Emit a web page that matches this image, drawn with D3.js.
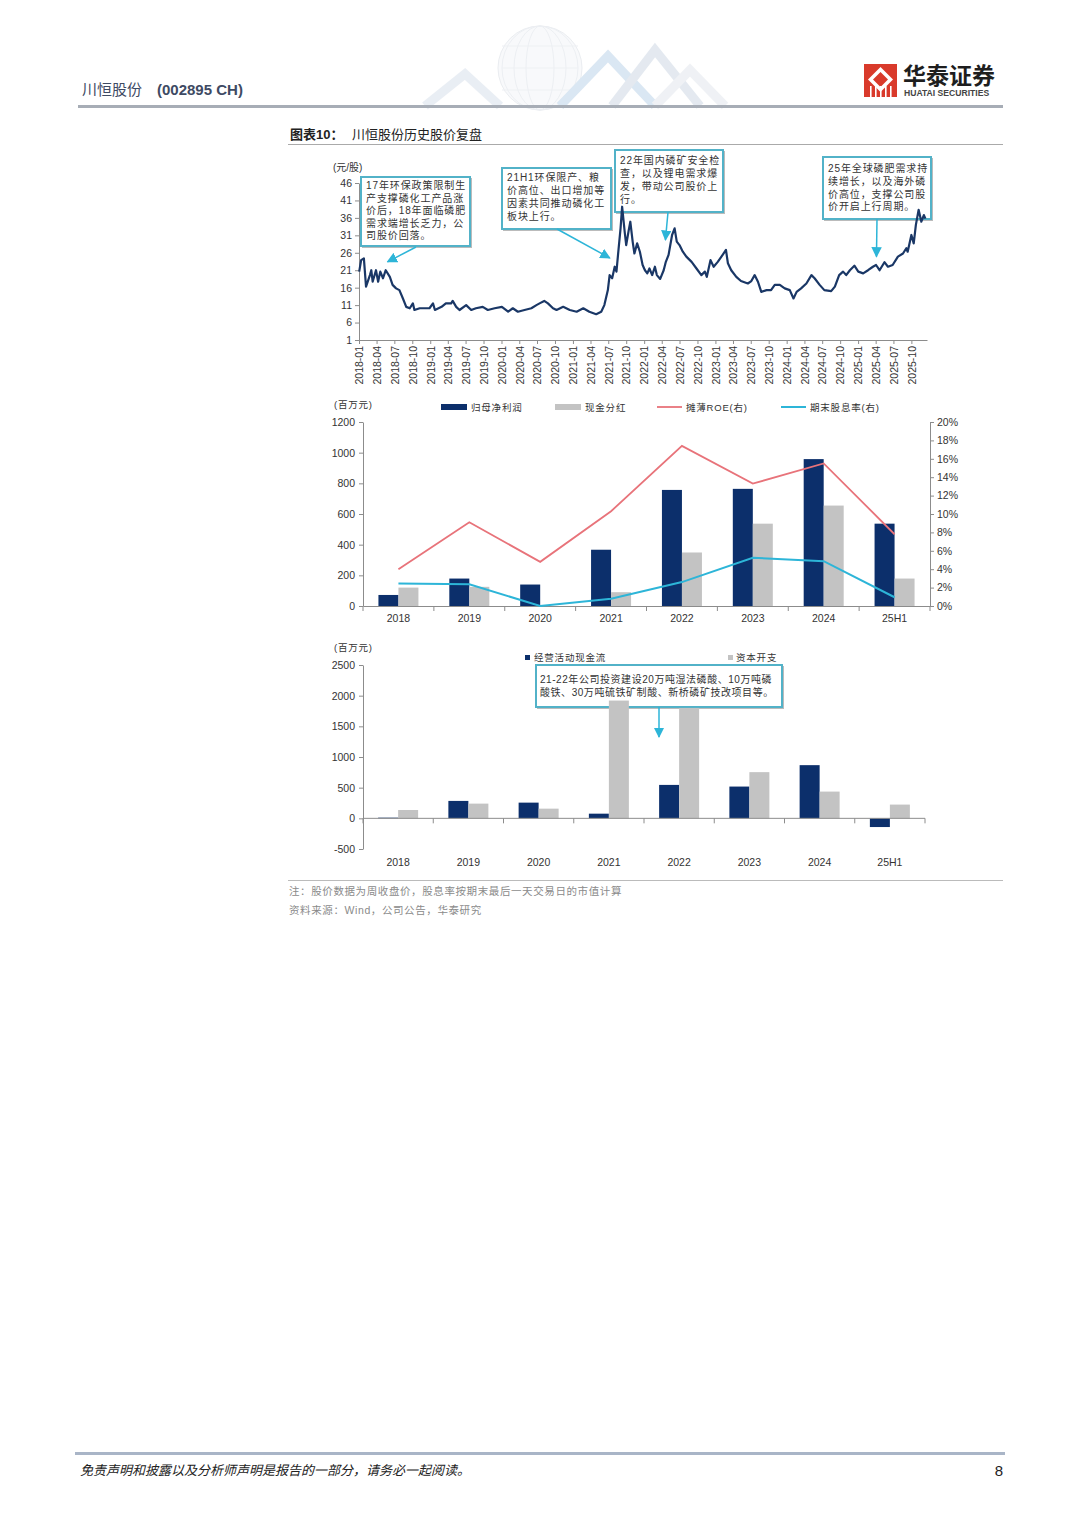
<!DOCTYPE html>
<html><head><meta charset="utf-8">
<script src="https://cdn.jsdelivr.net/npm/d3@7"></script>
<style>body{margin:0;background:#fff}</style>
</head><body><svg id="c" width="1080" height="1527" xmlns="http://www.w3.org/2000/svg"></svg>
<script>
// ---------------- DATA ----------------
const priceDates = ["2018-01-02","2018-01-12","2018-01-26","2018-02-06","2018-02-26","2018-03-05","2018-03-12","2018-03-29","2018-04-09","2018-04-20","2018-05-04","2018-05-18","2018-06-08","2018-06-22","2018-07-10","2018-07-27","2018-08-14","2018-08-31","2018-09-18","2018-10-04","2018-10-12","2018-11-08","2018-12-03","2018-12-28","2019-01-15","2019-01-25","2019-02-28","2019-03-22","2019-04-18","2019-04-26","2019-05-14","2019-05-31","2019-07-04","2019-07-30","2019-08-23","2019-09-27","2019-10-23","2019-11-27","2020-01-03","2020-02-04","2020-02-28","2020-03-25","2020-04-28","2020-06-02","2020-06-28","2020-07-14","2020-08-07","2020-08-26","2020-09-21","2020-10-09","2020-11-12","2020-12-16","2021-01-20","2021-02-23","2021-03-26","2021-04-30","2021-05-26","2021-06-11","2021-06-29","2021-07-08","2021-07-21","2021-08-03","2021-08-12","2021-08-20","2021-09-02","2021-09-10","2021-09-24","2021-10-01","2021-10-14","2021-10-22","2021-11-03","2021-11-12","2021-11-26","2021-12-10","2021-12-24","2022-01-05","2022-01-17","2022-01-28","2022-02-11","2022-02-25","2022-03-07","2022-03-24","2022-04-11","2022-04-22","2022-05-06","2022-05-24","2022-06-06","2022-06-17","2022-07-01","2022-07-18","2022-08-05","2022-09-01","2022-09-26","2022-10-21","2022-11-08","2022-11-18","2022-12-07","2022-12-23","2023-01-13","2023-02-07","2023-02-24","2023-03-06","2023-03-23","2023-04-18","2023-05-12","2023-06-16","2023-07-04","2023-07-21","2023-08-07","2023-08-24","2023-09-20","2023-10-13","2023-11-01","2023-11-27","2023-12-22","2024-01-17","2024-02-05","2024-02-21","2024-03-15","2024-04-11","2024-05-07","2024-05-23","2024-06-18","2024-07-12","2024-08-16","2024-09-04","2024-09-26","2024-10-16","2024-11-01","2024-11-20","2024-12-13","2025-01-02","2025-01-27","2025-02-21","2025-03-18","2025-04-03","2025-04-21","2025-05-16","2025-06-03","2025-06-27","2025-07-24","2025-08-19","2025-09-05","2025-09-12","2025-10-01","2025-10-13","2025-10-24","2025-11-07","2025-11-21","2025-12-04","2025-12-12"];
const priceValues = [20.6,23.9,24.4,16.3,19.6,21.0,17.7,21.0,17.7,20.6,18.7,21.0,19.1,16.8,15.8,15.3,12.9,10.5,10.1,11.5,9.6,10.1,10.1,10.1,11.5,9.6,10.5,11.5,11.5,12.2,10.5,9.6,11.0,9.6,10.1,10.5,9.6,10.1,10.5,9.1,10.1,9.1,9.6,10.1,11.0,11.5,12.2,11.5,10.1,9.6,10.5,9.6,9.1,10.1,9.1,8.4,9.1,11.0,15.3,19.6,18.7,22.0,20.6,25.4,33.0,39.2,31.6,28.2,32.5,34.9,29.2,25.8,28.7,26.3,22.5,21.0,20.1,21.5,19.6,22.0,19.6,18.5,21.0,23.4,25.4,31.1,33.0,29.2,28.2,26.3,24.9,23.4,21.5,19.6,20.6,19.1,23.9,22.0,23.4,25.4,26.8,23.0,21.0,19.1,17.9,17.2,17.9,19.6,17.7,14.8,15.3,15.3,16.8,16.8,15.8,15.3,12.9,14.8,15.8,17.2,19.6,18.7,16.8,15.3,15.0,16.3,19.6,20.6,19.6,21.0,22.3,20.6,20.1,21.0,22.0,22.5,21.0,23.3,22.0,22.5,24.9,25.8,27.3,26.3,31.1,28.7,34.0,38.3,34.9,36.8,35.8];
const priceTicks = [1,6,11,16,21,26,31,36,41,46];

const priceNotes = [
  ["17年环保政策限制生","产支撑磷化工产品涨","价后，18年面临磷肥","需求端增长乏力，公","司股价回落。"],
  ["21H1环保限产、粮","价高位、出口增加等","因素共同推动磷化工","板块上行。"],
  ["22年国内磷矿安全检","查，以及锂电需求爆","发，带动公司股价上","行。"],
  ["25年全球磷肥需求持","续增长，以及海外磷","价高位，支撑公司股","价开启上行周期。"]
];
const noteTargetDates = ["2018-05-27","2021-07-09","2022-04-20","2025-04-05"];
const noteTargetValues = [23.4,24.5,29.7,24.9];

const years = ["2018","2019","2020","2021","2022","2023","2024","25H1"];
const netProfit    = [72,179,140,367,757,764,958,537];
const cashDividend = [120,125,0,90,349,537,655,179];
const dilutedROE   = [0.040,0.091,0.048,0.103,0.174,0.133,0.155,0.078];
const divYield     = [0.0244,0.0236,0.0,0.008,0.026,0.0524,0.0487,0.0095];
const leftTicks1   = [0,200,400,600,800,1000,1200];
const rightTicks1  = [0,0.02,0.04,0.06,0.08,0.10,0.12,0.14,0.16,0.18,0.20];

const opCashFlow = [11,284,256,76,545,518,867,-142];
const capex      = [136,240,158,1920,1800,753,436,224];
const ticks2     = [-500,0,500,1000,1500,2000,2500];
const capexNote  = ["21-22年公司投资建设20万吨湿法磷酸、10万吨磷","酸铁、30万吨硫铁矿制酸、新桥磷矿技改项目等。"];

// ---------------- STYLE ----------------
const CJK = "'Liberation Sans','Noto Sans CJK SC',sans-serif";
const NAVY = "#0c2f6b", GRAY = "#c3c3c3", RED = "#e8737a", CYAN = "#2db5d8", TEAL = "#52b2c8";
const AX = "#8c8c8c", TXT = "#333";
const plain = d => String(d);

const svg = d3.select("#c");
const defs = svg.append("defs");
defs.append("marker").attr("id","ah").attr("viewBox","0 0 10 10").attr("refX",9).attr("refY",5)
  .attr("markerWidth",7).attr("markerHeight",7).attr("orient","auto-start-reverse")
  .append("path").attr("d","M0,0 L10,5 L0,10 z").attr("fill",CYAN);

// ---------------- HEADER ----------------
const deco = svg.append("g").attr("opacity",0.38);
deco.append("circle").attr("cx",540).attr("cy",68).attr("r",42).attr("fill","#eef1f5").attr("stroke","#c9d0da");
[14,26,38].forEach(rx=>deco.append("ellipse").attr("cx",540).attr("cy",68).attr("rx",rx).attr("ry",42).attr("fill","none").attr("stroke","#cfd6e0"));
[-22,0,22].forEach(dy=>deco.append("line").attr("x1",502).attr("x2",578).attr("y1",68+dy).attr("y2",68+dy).attr("stroke","#d3d9e2"));
const chev = [[425,106,465,74,500,106,"#c8d4e4"],[560,106,608,56,655,106,"#9fc1e0"],[612,106,655,50,700,106,"#b9c8da"],[655,106,690,70,725,106,"#d6dde6"]];
chev.forEach(c=>deco.append("path").attr("d",`M${c[0]},${c[1]} L${c[2]},${c[3]} L${c[4]},${c[5]}`).attr("fill","none").attr("stroke",c[6]).attr("stroke-width",9));

svg.append("text").attr("x",82).attr("y",95).attr("font-family",CJK).attr("font-size",15).attr("fill","#3e4a63").text("川恒股份");
svg.append("text").attr("x",157).attr("y",95).attr("font-family",CJK).attr("font-size",15).attr("font-weight","bold").attr("fill","#3e4a63").text("(002895 CH)");
svg.append("rect").attr("x",78).attr("y",105).attr("width",925).attr("height",3).attr("fill","#a7adb6");

const lg = svg.append("g");
lg.append("rect").attr("x",864).attr("y",64).attr("width",33).attr("height",33).attr("fill","#d93a2b");
lg.append("path").attr("d","M880.5,67 L893,79.5 L880.5,92 L868,79.5 z").attr("fill","#fff");
lg.append("path").attr("d","M880.5,72 L888,79.5 L880.5,87 L873,79.5 z").attr("fill","#d93a2b");
[870,875,880,885,890].forEach(x=>lg.append("rect").attr("x",x).attr("y",86).attr("width",1.6).attr("height",11).attr("fill","#fff"));
svg.append("text").attr("x",903).attr("y",84).attr("font-family","'Noto Sans CJK SC',sans-serif").attr("font-size",23).attr("font-weight","bold").attr("fill","#1e1e1e").text("华泰证券");
svg.append("text").attr("x",904).attr("y",96).attr("font-family","'Liberation Sans',Arial,sans-serif").attr("font-size",8.6).attr("font-weight","bold").attr("fill","#444").text("HUATAI SECURITIES");

svg.append("text").attr("x",290).attr("y",139).attr("font-family",CJK).attr("font-size",13).attr("font-weight","bold").attr("fill","#222").text("图表10：");
svg.append("text").attr("x",352).attr("y",139).attr("font-family",CJK).attr("font-size",13).attr("fill","#222").text("川恒股份历史股价复盘");
svg.append("rect").attr("x",288).attr("y",144).attr("width",715).attr("height",1).attr("fill","#aaa");

// helpers
function noteBox(bx,by,bw,bh,lines,ty,lh,ls){
  svg.append("rect").attr("x",bx+1.5).attr("y",by+1.5).attr("width",bw).attr("height",bh).attr("fill","none").attr("stroke","#bbb").attr("stroke-width",1);
  svg.append("rect").attr("x",bx).attr("y",by).attr("width",bw).attr("height",bh).attr("fill","#fff").attr("stroke",TEAL).attr("stroke-width",2);
  lines.forEach((t,i)=>svg.append("text").attr("x",bx+5).attr("y",ty+i*lh).attr("font-family",CJK).attr("font-size",10)
    .attr("letter-spacing",ls).attr("fill","#333").text(t));
}
function arrow(xa,ya,xb,yb){
  svg.append("line").attr("x1",xa).attr("y1",ya).attr("x2",xb).attr("y2",yb).attr("stroke",CYAN).attr("stroke-width",1.5).attr("marker-end","url(#ah)");
}

// ---------------- CHART 1: price ----------------
const parse = d3.timeParse("%Y-%m-%d");
const price = priceDates.map((d,i)=>({date:parse(d), v:priceValues[i]}));
const x1s = d3.scaleTime().domain([parse("2018-01-01"),parse("2025-12-20")]).range([359,927]);
const y1s = d3.scaleLinear().domain([1,46]).range([340,183]);

const boxes = [[361,177,109,69,189,12.6,416,247],[502,168,109,61,181,13,557,229],[615,150,108,62,164,13,668,212],[823,157,108,62,172,12.8,877,219]];
boxes.forEach((b,i)=>{
  noteBox(b[0],b[1],b[2],b[3],priceNotes[i],b[4],b[5],0.9);
  arrow(b[6],b[7],x1s(parse(noteTargetDates[i])),y1s(noteTargetValues[i]));
});

const ga = svg.append("g").attr("transform","translate(359,0)")
  .call(d3.axisLeft(y1s).tickValues(priceTicks).tickSize(4).tickSizeOuter(0).tickFormat(plain));
ga.select(".domain").attr("stroke",AX);
ga.selectAll(".tick line").attr("stroke",AX);
ga.selectAll("text").attr("font-family",CJK).attr("font-size",10.5).attr("fill",TXT).attr("x",-7);

const quarters = d3.timeMonth.every(3).range(parse("2018-01-01"), parse("2025-10-02"));
const gx = svg.append("g").attr("transform","translate(0,340)")
  .call(d3.axisBottom(x1s).tickValues(quarters).tickSize(4).tickSizeOuter(0).tickFormat(d3.timeFormat("%Y-%m")));
gx.select(".domain").attr("stroke",AX);
gx.selectAll(".tick line").attr("stroke",AX);
gx.selectAll("text").attr("font-family",CJK).attr("font-size",10.5).attr("fill",TXT)
  .attr("transform","rotate(-90)").attr("text-anchor","end").attr("x",-6).attr("y",0).attr("dy","0.36em");

svg.append("text").attr("x",333).attr("y",171).attr("font-family",CJK).attr("font-size",10).attr("fill",TXT).text("(元/股)");

svg.append("path").datum(price).attr("fill","none").attr("stroke","#1a3766").attr("stroke-width",2.2).attr("stroke-linejoin","round")
  .attr("d",d3.line().x(d=>x1s(d.date)).y(d=>y1s(d.v)));

// ---------------- CHART 2: profit / dividend ----------------
const xb = d3.scaleBand().domain(years).range([363,930]);
const bw = xb.bandwidth();
const xi = d3.scaleBand().domain(["a","b"]).range([bw/2-20,bw/2+20]);
const yl = d3.scaleLinear().domain([0,1200]).range([606,422]);
const yr = d3.scaleLinear().domain([0,0.2]).range([606,422]);

const gl = svg.append("g").attr("transform","translate(363,0)").call(d3.axisLeft(yl).tickValues(leftTicks1).tickSize(4).tickSizeOuter(0).tickFormat(plain));
const gr = svg.append("g").attr("transform","translate(930,0)").call(d3.axisRight(yr).tickValues(rightTicks1).tickSize(4).tickSizeOuter(0).tickFormat(d3.format(".0%")));
[gl,gr].forEach(g=>{g.select(".domain").attr("stroke",AX);g.selectAll(".tick line").attr("stroke",AX);
  g.selectAll("text").attr("font-family",CJK).attr("font-size",10.5).attr("fill",TXT);});
gl.selectAll("text").attr("x",-8);
gr.selectAll("text").attr("x",7);

svg.append("g").selectAll("rect").data(years).join("rect")
  .attr("x",d=>xb(d)+xi("a")).attr("width",xi.bandwidth()).attr("y",(d,i)=>yl(netProfit[i])).attr("height",(d,i)=>yl(0)-yl(netProfit[i])).attr("fill",NAVY);
svg.append("g").selectAll("rect").data(years).join("rect")
  .attr("x",d=>xb(d)+xi("b")).attr("width",xi.bandwidth()).attr("y",(d,i)=>yl(cashDividend[i])).attr("height",(d,i)=>yl(0)-yl(cashDividend[i])).attr("fill",GRAY);

const gxb = svg.append("g").attr("transform","translate(0,606)").call(d3.axisBottom(xb).tickSize(0).tickSizeOuter(0));
gxb.select(".domain").attr("stroke",AX);
gxb.selectAll("text").attr("font-family",CJK).attr("font-size",10.5).attr("fill",TXT).attr("dy","1.25em");
svg.append("g").selectAll("line").data(years.concat(["end"])).join("line")
  .attr("x1",(d,i)=>363+i*bw).attr("x2",(d,i)=>363+i*bw).attr("y1",606).attr("y2",611).attr("stroke",AX);

const cx = d=>xb(d)+bw/2;
svg.append("path").datum(dilutedROE).attr("fill","none").attr("stroke",RED).attr("stroke-width",1.8)
  .attr("d",d3.line().x((d,i)=>cx(years[i])).y(d=>yr(d)));
svg.append("path").datum(divYield).attr("fill","none").attr("stroke",CYAN).attr("stroke-width",2)
  .attr("d",d3.line().x((d,i)=>cx(years[i])).y(d=>yr(d)));

svg.append("text").attr("x",334).attr("y",408).attr("font-family",CJK).attr("font-size",9.5).attr("letter-spacing",0.8).attr("fill",TXT).text("(百万元)");
const lg2 = svg.append("g").attr("font-family",CJK).attr("font-size",9.5).attr("letter-spacing",0.8).attr("fill",TXT);
lg2.append("rect").attr("x",441).attr("y",404).attr("width",26).attr("height",6).attr("fill",NAVY);
lg2.append("text").attr("x",471).attr("y",411).text("归母净利润");
lg2.append("rect").attr("x",555).attr("y",404).attr("width",26).attr("height",6).attr("fill",GRAY);
lg2.append("text").attr("x",585).attr("y",411).text("现金分红");
lg2.append("line").attr("x1",657).attr("x2",682).attr("y1",407).attr("y2",407).attr("stroke",RED).attr("stroke-width",1.8);
lg2.append("text").attr("x",686).attr("y",411).text("摊薄ROE(右)");
lg2.append("line").attr("x1",781).attr("x2",806).attr("y1",407).attr("y2",407).attr("stroke",CYAN).attr("stroke-width",2);
lg2.append("text").attr("x",810).attr("y",411).text("期末股息率(右)");

// ---------------- CHART 3: cash flow / capex ----------------
const xc = d3.scaleBand().domain(years).range([363,925]);
const bw3 = xc.bandwidth();
const xi3 = d3.scaleBand().domain(["a","b"]).range([bw3/2-20,bw3/2+20]);
const y3 = d3.scaleLinear().domain([-500,2500]).range([849,665]);

// annotation box first (bars drawn over it)
svg.append("rect").attr("x",537.5).attr("y",666.5).attr("width",246).attr("height",42).attr("fill","none").attr("stroke","#bbb");
svg.append("rect").attr("x",536).attr("y",665).attr("width",246).attr("height",42).attr("fill","#fff").attr("stroke",TEAL).attr("stroke-width",2);
capexNote.forEach((t,i)=>svg.append("text").attr("x",540).attr("y",683+i*13).attr("font-family",CJK).attr("font-size",10)
  .attr("letter-spacing",0.55).attr("fill","#333").text(t));
arrow(659,707,659,737);

const g3 = svg.append("g").attr("transform","translate(363,0)").call(d3.axisLeft(y3).tickValues(ticks2).tickSize(4).tickSizeOuter(0).tickFormat(plain));
g3.select(".domain").attr("stroke",AX); g3.selectAll(".tick line").attr("stroke",AX);
g3.selectAll("text").attr("font-family",CJK).attr("font-size",10.5).attr("fill",TXT).attr("x",-8);

svg.append("g").selectAll("rect").data(years).join("rect")
  .attr("x",d=>xc(d)+xi3("a")).attr("width",xi3.bandwidth())
  .attr("y",(d,i)=>y3(Math.max(0,opCashFlow[i]))).attr("height",(d,i)=>Math.abs(y3(opCashFlow[i])-y3(0))).attr("fill",NAVY);
svg.append("g").selectAll("rect").data(years).join("rect")
  .attr("x",d=>xc(d)+xi3("b")).attr("width",xi3.bandwidth())
  .attr("y",(d,i)=>y3(Math.max(0,capex[i]))).attr("height",(d,i)=>Math.abs(y3(capex[i])-y3(0))).attr("fill",GRAY);

svg.append("line").attr("x1",363).attr("x2",925).attr("y1",y3(0)).attr("y2",y3(0)).attr("stroke",AX);
svg.append("g").selectAll("line").data(years.concat(["end"])).join("line")
  .attr("x1",(d,i)=>363+i*bw3).attr("x2",(d,i)=>363+i*bw3).attr("y1",y3(0)).attr("y2",y3(0)+5).attr("stroke",AX);
svg.append("g").selectAll("text").data(years).join("text")
  .attr("x",d=>xc(d)+bw3/2).attr("y",866).attr("text-anchor","middle")
  .attr("font-family",CJK).attr("font-size",10.5).attr("fill",TXT).text(d=>d);

svg.append("text").attr("x",334).attr("y",651).attr("font-family",CJK).attr("font-size",9.5).attr("letter-spacing",0.8).attr("fill",TXT).text("(百万元)");
const lg3 = svg.append("g").attr("font-family",CJK).attr("font-size",9.5).attr("letter-spacing",0.8).attr("fill",TXT);
lg3.append("rect").attr("x",525).attr("y",655).attr("width",5).attr("height",5).attr("fill",NAVY);
lg3.append("text").attr("x",534).attr("y",661).text("经营活动现金流");
lg3.append("rect").attr("x",728).attr("y",655).attr("width",5).attr("height",5).attr("fill",GRAY);
lg3.append("text").attr("x",736).attr("y",661).text("资本开支");

// ---------------- NOTES / FOOTER ----------------
svg.append("rect").attr("x",288).attr("y",880).attr("width",715).attr("height",1).attr("fill","#bbb");
svg.append("text").attr("x",289).attr("y",895).attr("font-family",CJK).attr("font-size",10.5).attr("letter-spacing",0.6).attr("fill","#8a8a8a").text("注：股价数据为周收盘价，股息率按期末最后一天交易日的市值计算");
svg.append("text").attr("x",289).attr("y",914).attr("font-family",CJK).attr("font-size",10.5).attr("letter-spacing",0.6).attr("fill","#8a8a8a").text("资料来源：Wind，公司公告，华泰研究");

svg.append("rect").attr("x",75).attr("y",1452).attr("width",930).attr("height",3).attr("fill","#a9b5c7");
svg.append("text").attr("x",80).attr("y",1475).attr("font-family",CJK).attr("font-size",13).attr("font-style","italic").attr("fill","#222").text("免责声明和披露以及分析师声明是报告的一部分，请务必一起阅读。");
svg.append("text").attr("x",1003).attr("y",1476).attr("text-anchor","end").attr("font-family","'Liberation Sans',Arial").attr("font-size",15).attr("fill","#222").text("8");
</script></body></html>
